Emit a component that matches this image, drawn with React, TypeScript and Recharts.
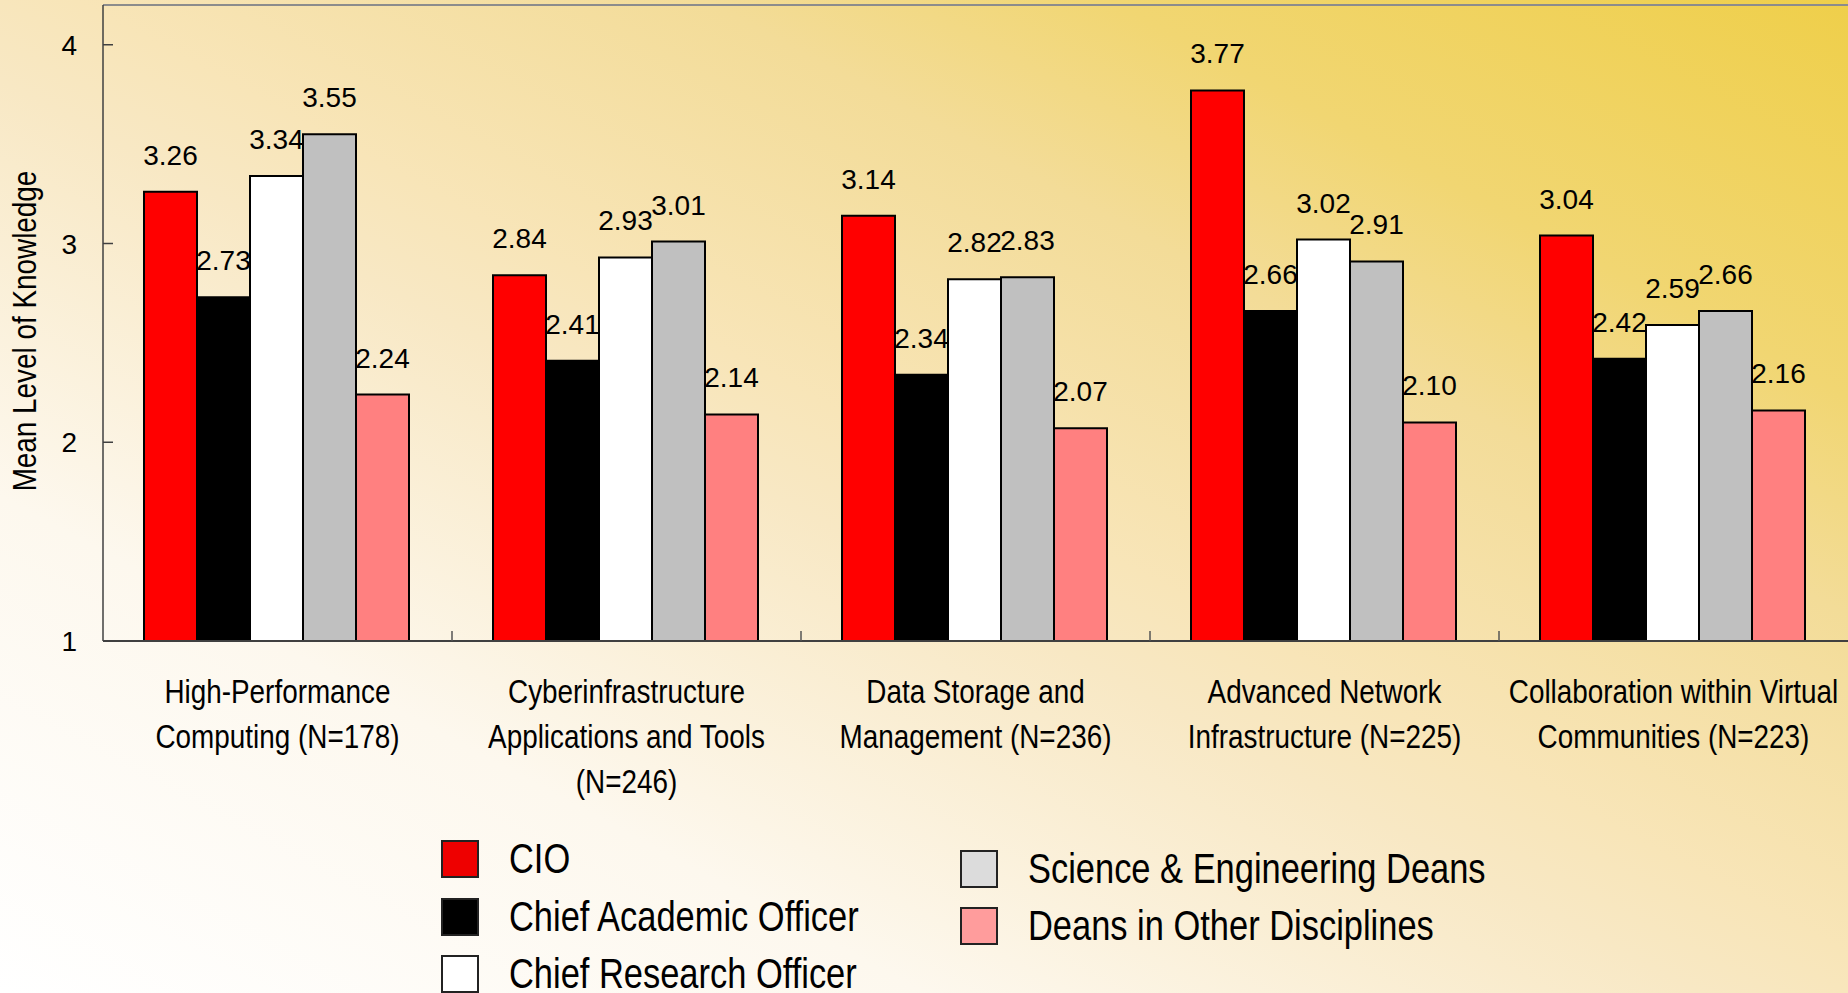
import React from 'react'
import { BarChart, Bar, XAxis, YAxis, Legend, LabelList, ReferenceLine } from 'recharts'

const CATEGORIES = [
    'High-Performance\nComputing (N=178)',
    'Cyberinfrastructure\nApplications and Tools\n(N=246)',
    'Data Storage and\nManagement (N=236)',
    'Advanced Network\nInfrastructure (N=225)',
    'Collaboration within Virtual\nCommunities (N=223)',
]

const CIO = [3.26, 2.84, 3.14, 3.77, 3.04]
const CHIEF_ACADEMIC = [2.73, 2.41, 2.34, 2.66, 2.42]
const CHIEF_RESEARCH = [3.34, 2.93, 2.82, 3.02, 2.59]
const SCI_ENG_DEANS = [3.55, 3.01, 2.83, 2.91, 2.66]
const OTHER_DEANS = [2.24, 2.14, 2.07, 2.10, 2.16]

const Y_TICKS = [1, 2, 3, 4]

const SERIES = [
    { key: 'cio', name: 'CIO', values: CIO, fill: '#ff0000', swatch: '#ee0000' },
    { key: 'academic', name: 'Chief Academic Officer', values: CHIEF_ACADEMIC, fill: '#000000', swatch: '#000000' },
    { key: 'research', name: 'Chief Research Officer', values: CHIEF_RESEARCH, fill: '#ffffff', swatch: '#ffffff' },
    { key: 'scieng', name: 'Science & Engineering Deans', values: SCI_ENG_DEANS, fill: '#c0c0c0', swatch: '#dcdcdc' },
    { key: 'other', name: 'Deans in Other Disciplines', values: OTHER_DEANS, fill: '#ff8080', swatch: '#ff9c9c' },
]

const data = CATEGORIES.map((name, i) => {
    const row: any = { name }
    SERIES.forEach(s => { row[s.key] = s.values[i] })
    return row
})

const W = 1848
const H = 993
const Y_AXIS_W = 103
const X_AXIS_H = 352
const BAND = (W - Y_AXIS_W) / CATEGORIES.length

// no narrow font installed: squeeze Liberation Sans horizontally instead
const SANS = "'Liberation Sans', Arial, sans-serif"
const SQUEEZE = 0.82

// legend slots: [left, centerY] for swatch
const LEGEND_POS = [
    [441, 859], [441, 917], [441, 974],
    [960, 869], [960, 926],
]

const squeezeAt = (cx: number, cy: number) => `translate(${cx},${cy}) scale(${SQUEEZE},1) translate(${-cx},${-cy})`

const XTick = (props: any) => {
    const { x, y, payload, index } = props
    const lines = String(payload.value).split('\n')
    return (
        <g>
            {index < CATEGORIES.length - 1 && (
                <line x1={x + BAND / 2} x2={x + BAND / 2} y1={y} y2={y - 10} stroke="#555" strokeWidth={1.5} />
            )}
            <text x={x} y={y} transform={squeezeAt(x, y)} textAnchor="middle" fontFamily={SANS} fontSize={34} fill="#000">
                {lines.map((l, i) => (
                    <tspan key={i} x={x} dy={i === 0 ? 62 : 45}>{l}</tspan>
                ))}
            </text>
        </g>
    )
}

const YTick = (props: any) => {
    const { x, y, payload } = props
    return (
        <g>
            <line x1={x} x2={x + 10} y1={y} y2={y} stroke="#404040" strokeWidth={1.5} />
            <text x={x - 26} y={y + 10} textAnchor="end" fontFamily={SANS} fontSize={28} fill="#000">
                {payload.value}
            </text>
        </g>
    )
}

const YLabel = (props: any) => {
    const { viewBox } = props
    const cx = viewBox.x + 36
    const cy = viewBox.y + viewBox.height / 2 + 8
    return (
        <text x={cx} y={cy} transform={`rotate(-90, ${cx}, ${cy}) ${squeezeAt(cx, cy)}`} textAnchor="middle" fontFamily={SANS} fontSize={34} fill="#000">
            Mean Level of Knowledge
        </text>
    )
}

const LegendContent = () => (
    <div style={{ position: 'relative', width: W, height: H }}>
        {SERIES.map((s, i) => {
            const [left, cy] = LEGEND_POS[i]
            return (
                <div key={s.key}>
                    <div style={{
                        position: 'absolute', left, top: cy - 19, width: 34, height: 34,
                        background: s.swatch, border: '2px solid #222'
                    }} />
                    <div style={{
                        position: 'absolute', left: left + 68, top: cy - 25, height: 50, lineHeight: '50px',
                        fontFamily: SANS, fontSize: 42, color: '#000', whiteSpace: 'nowrap',
                        transform: `scaleX(${SQUEEZE})`, transformOrigin: 'left center'
                    }}>
                        {s.name}
                    </div>
                </div>
            )
        })}
    </div>
)

export default function App() {
    return (
        <div style={{
            position: 'absolute', left: 0, top: 0, width: W, height: H, overflow: 'hidden',
            background: 'linear-gradient(to top right, #ffffff 0%, #fdf8ee 25%, #f8e8c4 46%, #f8e5b8 52%, #f3dc98 69%, #f1d672 80%, #efcf4a 100%)'
        }}>
            <BarChart
                width={W}
                height={H}
                data={data}
                margin={{ top: 5, right: 0, left: 0, bottom: 0 }}
                barCategoryGap={41}
                barGap={0}
            >
                <XAxis
                    dataKey="name"
                    height={X_AXIS_H}
                    interval={0}
                    tickLine={false}
                    tickSize={0}
                    tickMargin={0}
                    axisLine={{ stroke: '#404040', strokeWidth: 2 }}
                    tick={<XTick />}
                />
                <YAxis
                    width={Y_AXIS_W}
                    domain={[1, 4.2]}
                    ticks={Y_TICKS}
                    allowDataOverflow
                    tickLine={false}
                    tickSize={0}
                    tickMargin={0}
                    axisLine={{ stroke: '#404040', strokeWidth: 1.5 }}
                    tick={<YTick />}
                    label={<YLabel />}
                />
                <ReferenceLine y={4.2} stroke="#8c8c8c" strokeWidth={2} />
                <Legend
                    layout="horizontal"
                    verticalAlign="middle"
                    wrapperStyle={{ left: 0, top: 0, width: W, height: H, pointerEvents: 'none' }}
                    content={<LegendContent />}
                />
                {SERIES.map(s => (
                    <Bar key={s.key} dataKey={s.key} name={s.name} fill={s.fill} stroke="#000" strokeWidth={2} isAnimationActive={false}>
                        <LabelList
                            dataKey={s.key}
                            position="top"
                            offset={27}
                            formatter={(v: any) => Number(v).toFixed(2)}
                            style={{ fontFamily: SANS, fontSize: 28, fill: '#000' }}
                        />
                    </Bar>
                ))}
            </BarChart>
        </div>
    )
}
